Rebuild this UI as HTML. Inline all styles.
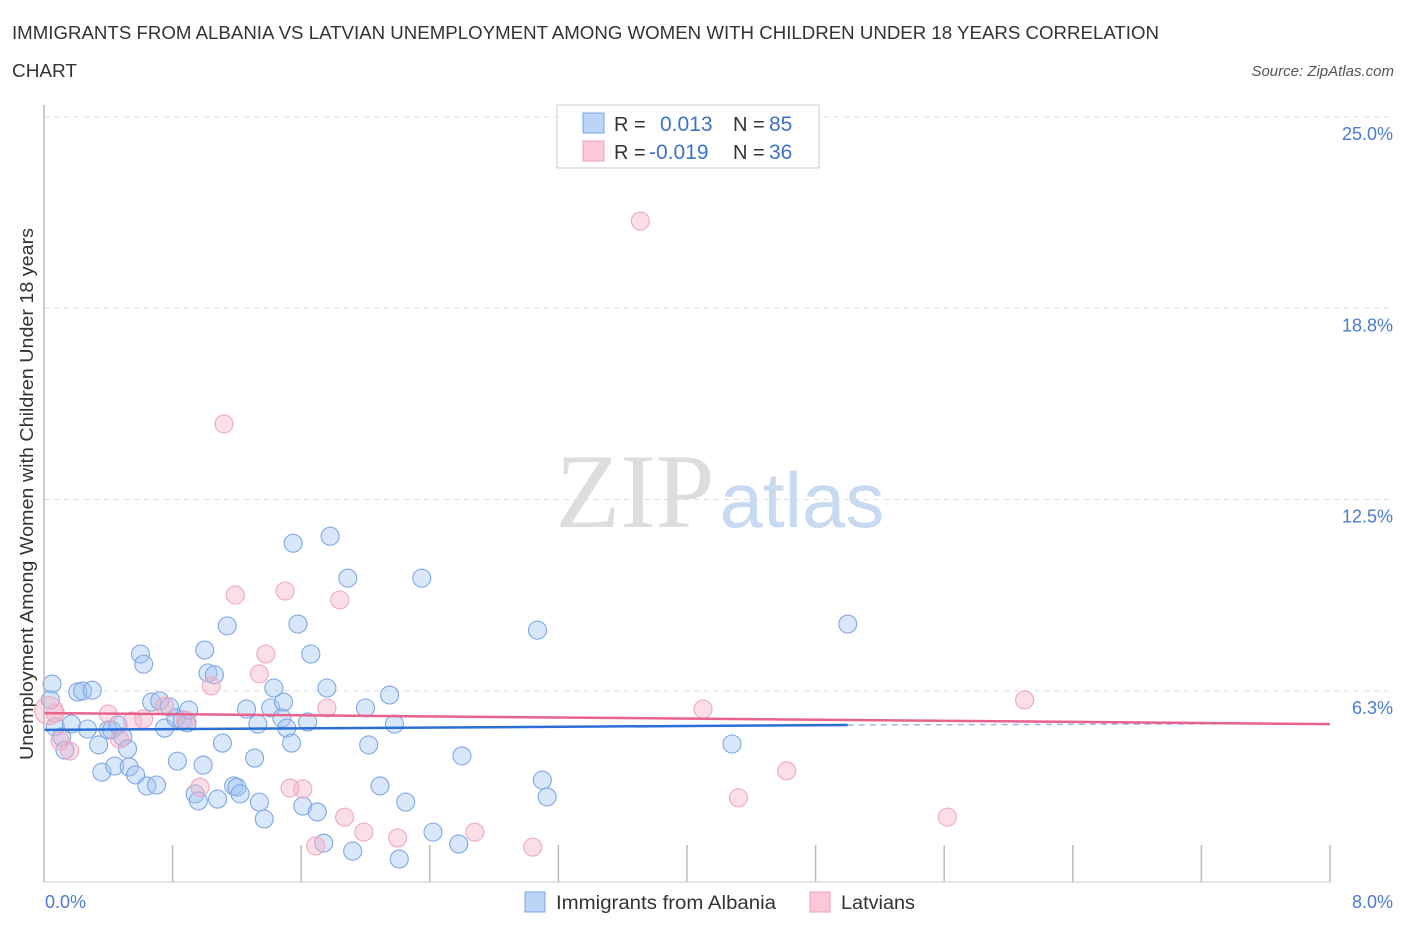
<!DOCTYPE html>
<html><head><meta charset="utf-8"><style>
body{margin:0;background:#fff;font-family:"Liberation Sans",sans-serif;}
svg{display:block}
</style></head><body>
<svg id="chart" width="1406" height="930">
<text x="12" y="39" font-size="18" fill="#333" textLength="1147" lengthAdjust="spacingAndGlyphs">IMMIGRANTS FROM ALBANIA VS LATVIAN UNEMPLOYMENT AMONG WOMEN WITH CHILDREN UNDER 18 YEARS CORRELATION</text>
<text x="12" y="77" font-size="18" fill="#333" textLength="65" lengthAdjust="spacingAndGlyphs">CHART</text>
<text x="1394" y="76" font-size="15" fill="#555" font-style="italic" text-anchor="end">Source: ZipAtlas.com</text>
<text x="635" y="527" font-size="106" fill="#ddd" font-family="Liberation Serif,serif" text-anchor="middle">ZIP</text>
<text x="802" y="527" font-size="78" fill="#c8daf2" text-anchor="middle">atlas</text>
<text transform="translate(33,494) rotate(-90)" font-size="18" fill="#333" text-anchor="middle" textLength="532" lengthAdjust="spacingAndGlyphs">Unemployment Among Women with Children Under 18 years</text>
<g id="grid"></g><g id="pts"></g><g id="trends"></g>
<line x1="44" y1="105" x2="44" y2="882" stroke="#bbb" stroke-width="1.5"/>
<line x1="44" y1="882" x2="1330" y2="882" stroke="#ccc" stroke-width="1"/>
<text x="45" y="908" font-size="18" fill="#4a7bd0">0.0%</text>
<text x="1393" y="908" font-size="18" fill="#4a7bd0" text-anchor="end">8.0%</text>
<g>
<rect x="557" y="105" width="262" height="63" fill="#fff" stroke="#ccc"/>
<rect x="583" y="113" width="21" height="20" fill="#bcd4f7" stroke="#7aa5e6"/>
<rect x="583" y="141" width="21" height="20" fill="#fcc8d8" stroke="#f0a0b8"/>
<text x="614" y="131" font-size="20" fill="#333">R = </text><text x="660" y="131" font-size="21" fill="#3d72cc">0.013</text>
<text x="733" y="131" font-size="20" fill="#333">N = </text><text x="769" y="131" font-size="21" fill="#3d72cc">85</text>
<text x="614" y="159" font-size="20" fill="#333">R = </text><text x="649" y="159" font-size="21" fill="#3d72cc">-0.019</text>
<text x="733" y="159" font-size="20" fill="#333">N = </text><text x="769" y="159" font-size="21" fill="#3d72cc">36</text>
</g>
<g>
<rect x="525" y="892" width="20" height="20" fill="#bcd4f7" stroke="#7aa5e6"/>
<text x="556" y="909" font-size="19" fill="#333" textLength="220" lengthAdjust="spacingAndGlyphs">Immigrants from Albania</text>
<rect x="810" y="892" width="20" height="20" fill="#fcc8d8" stroke="#f0a0b8"/>
<text x="841" y="909" font-size="19" fill="#333" textLength="74" lengthAdjust="spacingAndGlyphs">Latvians</text>
</g>
</svg>
<script>
const yTicks=[6.25,12.5,18.75,25];
const yTickLabels=["6.3%","12.5%","18.8%","25.0%"];
const xTicks=[0.8,1.6,2.4,3.2,4.0,4.8,5.6,6.4,7.2,8.0];
const blueX=[0.05,0.04,0.07,0.11,0.13,0.17,0.21,0.24,0.30,0.27,0.34,0.36,0.40,0.42,0.44,0.46,0.49,0.52,0.53,0.57,0.60,0.62,0.64,0.67,0.70,0.72,0.75,0.78,0.82,0.83,0.86,0.89,0.90,0.94,0.96,0.99,1.00,1.02,1.06,1.08,1.11,1.14,1.18,1.20,1.22,1.26,1.31,1.33,1.34,1.37,1.41,1.43,1.48,1.49,1.51,1.54,1.55,1.58,1.61,1.64,1.66,1.70,1.74,1.76,1.78,1.89,1.92,2.00,2.02,2.09,2.15,2.18,2.21,2.25,2.35,2.42,2.58,2.60,3.07,3.10,3.13,4.28,5.00];
const blueY=[6.47,5.95,5.07,4.74,4.31,5.16,6.21,6.24,6.27,5.00,4.48,3.59,4.97,4.97,3.79,5.13,4.74,4.35,3.76,3.50,7.45,7.12,3.14,5.88,3.17,5.92,5.03,5.72,5.36,3.95,5.29,5.20,5.62,2.88,2.65,3.82,7.58,6.83,6.77,2.71,4.54,8.37,3.14,3.10,2.88,5.65,4.05,5.16,2.61,2.06,5.69,6.34,5.36,5.88,5.03,4.54,11.07,8.43,2.48,5.23,7.45,2.29,1.27,6.34,11.30,9.93,1.01,5.69,4.48,3.14,6.11,5.16,0.75,2.61,9.93,1.63,1.24,4.12,8.23,3.33,2.78,4.51,8.43];
const pinkX=[0.07,0.10,0.16,0.40,0.47,0.55,0.62,0.75,0.88,0.97,1.04,1.12,1.19,1.34,1.38,1.50,1.53,1.61,1.69,1.76,1.84,1.87,1.99,2.20,2.68,3.04,3.71,4.10,4.32,4.62,5.62,6.10,0.03];
const pinkY=[5.52,4.61,4.28,5.49,4.67,5.26,5.33,5.75,5.29,3.10,6.41,14.97,9.38,6.80,7.45,9.51,3.07,3.04,1.18,5.69,9.22,2.12,1.63,1.44,1.63,1.14,21.60,5.65,2.75,3.63,2.12,5.95,5.60];
const blueTrend=[4.97,5.13,5.18];
const pinkTrend=[5.52,5.16];
const NS="http://www.w3.org/2000/svg";
const X=v=>44+v*160.75, Y=v=>882-v*30.6;
const grid=document.getElementById('grid'),pts=document.getElementById('pts'),tr=document.getElementById('trends'),svg=document.getElementById('chart');
function mk(tag,attrs,parent){const e=document.createElementNS(NS,tag);for(const k in attrs)e.setAttribute(k,attrs[k]);parent.appendChild(e);return e;}
yTicks.forEach((t,i)=>{
 const l=mk('line',{x1:44,x2:1394,y1:Y(t),y2:Y(t),stroke:'#ddd','stroke-dasharray':'5,5'},grid);
 
 
 const tx=mk('text',{x:1393,y:Y(t)+23,'font-size':18,fill:'#4a7bd0','text-anchor':'end'},svg);
 tx.textContent=yTickLabels[i];
 
 
});
xTicks.forEach(t=>{
 const l=mk('line',{x1:X(t),x2:X(t),y1:845,y2:882,stroke:'#bbb','stroke-width':1.5},grid);
 
 
});
blueX.forEach((x,i)=>{
 const c=mk('circle',{cx:X(x),cy:Y(blueY[i]),r:9,fill:'rgba(160,196,242,0.4)',stroke:'#7fa7e4','stroke-width':1.1},pts);
 
 
});
pinkX.forEach((x,i)=>{
 const c=mk('circle',{cx:X(x),cy:Y(pinkY[i]),r:i==pinkX.length-1?14:9,fill:'rgba(245,175,198,0.4)',stroke:'#f0a8be','stroke-width':1.1},pts);
 
 
});
const b1=mk('line',{x1:X(0),y1:Y(blueTrend[0]),x2:X(5.0),y2:Y(blueTrend[1]),stroke:'#2a6fd6','stroke-width':2.5},tr);


const b2=mk('line',{x1:X(5.0),y1:Y(blueTrend[1]),x2:X(8),y2:Y(blueTrend[2]),stroke:'#9bb8e6','stroke-width':1.5,'stroke-dasharray':'6,5'},tr);


const p1=mk('line',{x1:X(0),y1:Y(pinkTrend[0]),x2:X(8),y2:Y(pinkTrend[1]),stroke:'#e8628e','stroke-width':2.5},tr);


</script>
</body></html>
